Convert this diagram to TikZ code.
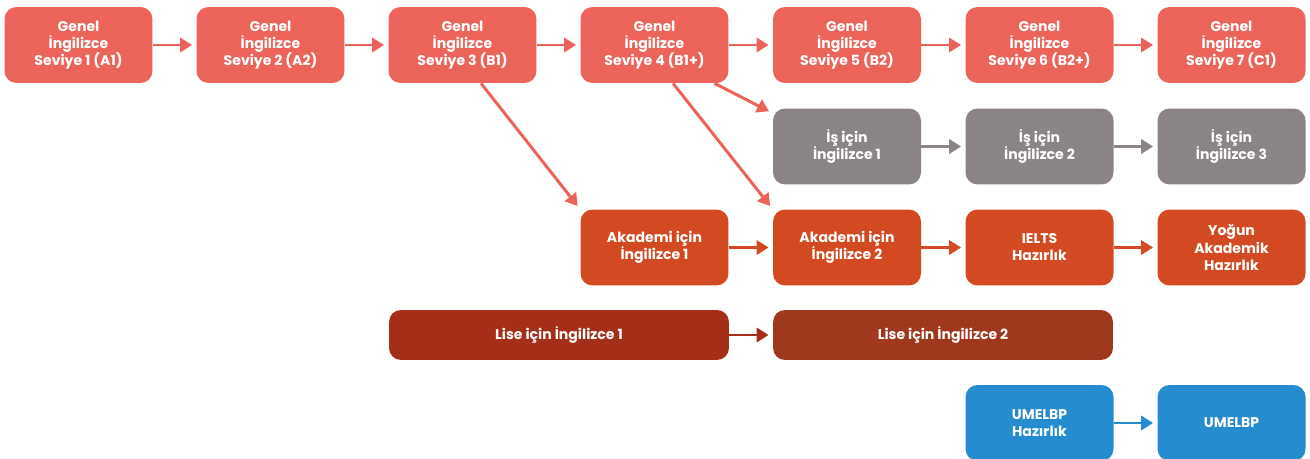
\documentclass[tikz,border=0pt]{standalone}
\usepackage{fontspec}
\setmainfont{Poppins}
\usetikzlibrary{arrows.meta,calc}
\definecolor{genel}{HTML}{EC6459}
\definecolor{is}{HTML}{8A8584}
\definecolor{akademi}{HTML}{D34A22}
\definecolor{liseA}{HTML}{A52E18}
\definecolor{liseB}{HTML}{A0381E}
\definecolor{umelbp}{HTML}{258DCF}

\begin{document}
\begin{tikzpicture}[x=0.02cm,y=-0.02cm,
    box/.style={rounded corners=0.24cm, minimum width=2.96cm, minimum height=1.52cm,
      inner sep=0pt, text=white, align=center, font=\bfseries\fontsize{8}{9.7}\selectfont},
    widebox/.style={box, minimum width=6.8cm, minimum height=1cm},
    link/.style={line width=1.7pt, -{Triangle[length=6.8pt,width=8pt]}, shorten >=2.3pt}]
    \useasboundingbox (0,0) rectangle (1310,459);
    % genel ingilizce
    \node[box,fill=genel] (g1) at (78.5,45) {Genel\\İngilizce\\Seviye 1 (A1)};
    \node[box,fill=genel] (g2) at (270.5,45) {Genel\\İngilizce\\Seviye 2 (A2)};
    \node[box,fill=genel] (g3) at (462.5,45) {Genel\\İngilizce\\Seviye 3 (B1)};
    \node[box,fill=genel] (g4) at (654.5,45) {Genel\\İngilizce\\Seviye 4 (B1+)};
    \node[box,fill=genel] (g5) at (847,45) {Genel\\İngilizce\\Seviye 5 (B2)};
    \node[box,fill=genel] (g6) at (1039.5,45) {Genel\\İngilizce\\Seviye 6 (B2+)};
    \node[box,fill=genel] (g7) at (1231.5,45) {Genel\\İngilizce\\Seviye 7 (C1)};
    % is icin
    \node[box,fill=is] (is1) at (847,146.5) {İş için\\İngilizce 1};
    \node[box,fill=is] (is2) at (1039.5,146.5) {İş için\\İngilizce 2};
    \node[box,fill=is] (is3) at (1231.5,146.5) {İş için\\İngilizce 3};
    % akademi
    \node[box,fill=akademi] (ak1) at (654.5,247.5) {Akademi için\\İngilizce 1};
    \node[box,fill=akademi] (ak2) at (847,247.5) {Akademi için\\İngilizce 2};
    \node[box,fill=akademi] (ielts) at (1039.5,247.5) {IELTS\\Hazırlık};
    \node[box,fill=akademi] (yogun) at (1231.5,247.5) {Yoğun\\Akademik\\Hazırlık};
    % lise
    \node[widebox,fill=liseA] (lise1) at (559,335) {Lise için İngilizce 1};
    \node[widebox,fill=liseB] (lise2) at (943,335) {Lise için İngilizce 2};
    % umelbp
    \node[box,fill=umelbp] (uh) at (1039.5,423) {UMELBP\\Hazırlık};
    \node[box,fill=umelbp] (um) at (1231.5,423) {UMELBP};

    \draw[link,genel] (g1) -- (g2);
    \draw[link,genel] (g2) -- (g3);
    \draw[link,genel] (g3) -- (g4);
    \draw[link,genel] (g4) -- (g5);
    \draw[link,genel] (g5) -- (g6);
    \draw[link,genel] (g6) -- (g7);
    \draw[link,genel] ($(g3.south)+(18.5,0)$) -- (ak1.north west);
    \draw[link,genel] ($(g4.south)+(18.5,0)$) -- (ak2.north west);
    \draw[link,genel] ($(g4.south)+(60,0)$) -- ($(is1.north west)+(0,5)$);
    \draw[link,is] (is1) -- (is2);
    \draw[link,is] (is2) -- (is3);
    \draw[link,akademi] (ak1) -- (ak2);
    \draw[link,akademi] (ak2) -- (ielts);
    \draw[link,akademi] (ielts) -- (yogun);
    \draw[link,liseA] (lise1) -- (lise2);
    \draw[link,umelbp] (uh) -- (um);
\end{tikzpicture}
\end{document}
